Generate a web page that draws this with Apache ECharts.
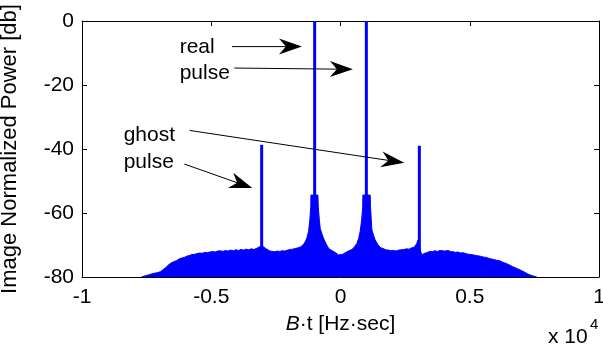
<!DOCTYPE html>
<html>
<head>
<meta charset="utf-8">
<script src="https://cdn.jsdelivr.net/npm/echarts@6/dist/echarts.min.js"></script>
<style>
html,body{margin:0;padding:0;background:#fff;}
#chart{width:603px;height:351px;}
</style>
</head>
<body>
<div id="chart"></div>
<script>
// ---- data (x in Hz*sec, y in dB) ----
var xTickLabels = ['-1', '-0.5', '0', '0.5', '1'];
var yTickLabels = ['-80', '-60', '-40', '-20', '0'];

// noise floor (upper envelope of the filled spectrum)
var floorX = [
  -7700,-7550,-7400,-7250,-7100,-6950,-6850,-6750,-6650,-6550,-6450,-6350,-6250,-6150,-6050,-5950,
  -5850,-5750,-5650,-5550,-5450,-5350,-5250,-5150,-5050,-4950,-4850,-4750,-4650,-4550,-4450,-4350,
  -4250,-4150,-4050,-3950,-3850,-3750,-3650,-3550,-3450,-3350,-3250,-3150,-3100,-3000,-2950,-2850,
  -2750,-2650,-2550,-2450,-2350,-2250,-2150,-2050,-1950,-1850,-1750,-1650,-1550,-1450,-1365,-1300,
  -1237,-1190,-1150,-1144,-874,-860,-820,-785,-720,-657,-560,-464,-370,-271,-170,-77,
  0,90,182,300,441,540,634,700,761,820,860,866,1148,1160,1190,1214,
  1280,1341,1440,1535,1650,1750,1850,1950,2050,2150,2250,2350,2450,2550,2650,2750,
  2850,2950,3000,3100,3150,3250,3340,3450,3550,3650,3750,3850,3950,4050,4150,4250,
  4350,4450,4550,4650,4750,4850,4950,5050,5150,5250,5350,5450,5550,5650,5750,5850,
  5950,6050,6150,6250,6350,6450,6550,6650,6750,6850,6950,7050,7150,7250,7350,7450,7600
];
var floorY = [
  -80,-79.6,-79.3,-78.9,-78.7,-78.3,-77.6,-77.0,-76.2,-75.6,-75.2,-74.9,-74.4,-74.1,-73.9,-73.5,
  -73.3,-73.0,-72.9,-72.7,-72.5,-72.6,-72.3,-72.4,-72.2,-72.0,-72.2,-71.9,-71.8,-72.0,-71.7,-71.9,
  -71.6,-71.8,-71.5,-71.7,-71.4,-71.6,-71.3,-71.5,-71.2,-71.4,-71.1,-70.6,-70.0,-70.5,-71.0,-71.3,
  -71.8,-72.0,-72.1,-71.9,-72.0,-71.8,-71.9,-71.6,-71.4,-71.3,-71.1,-70.9,-70.6,-70.0,-69.0,-67.8,
  -65.8,-62.5,-58.0,-54.4,-54.4,-58.0,-62.0,-64.8,-66.5,-67.9,-69.6,-71.0,-71.6,-72.0,-72.5,-73.1,
  -73.6,-72.9,-72.4,-71.9,-71.4,-70.6,-69.5,-68.0,-65.8,-62.0,-58.0,-54.4,-54.4,-58.0,-62.0,-65.3,
  -67.0,-68.4,-69.8,-70.8,-71.1,-71.5,-71.6,-71.8,-71.7,-71.9,-71.6,-71.5,-71.4,-71.2,-71.3,-70.9,
  -70.7,-69.5,-68.4,-72.0,-73.1,-72.6,-72.4,-72.0,-72.1,-71.8,-72.0,-71.7,-71.8,-71.9,-71.7,-72.0,
  -72.1,-72.3,-72.2,-72.5,-72.4,-72.7,-72.9,-73.0,-73.1,-73.3,-73.4,-73.6,-73.8,-73.9,-74.2,-74.4,
  -74.6,-74.8,-74.9,-75.3,-75.6,-75.9,-76.3,-76.7,-77.1,-77.4,-77.8,-78.2,-78.6,-79.1,-79.4,-79.7,-80
];

// narrow pulses
var spikeX = [-3050, -1000, 1000, 3050];
var spikePeak = [-38.7, 0, 0, -39.0];

// annotations
var noteTexts = ['real', 'pulse', 'ghost', 'pulse'];
var noteX = [-6223, -6223, -8388, -8388];
var noteY = [-8.1, -16.2, -35.7, -44.0];

var arrowFromX = [-4198, -4109, -5837, -6042];
var arrowFromY = [-8.0, -14.7, -34.2, -44.7];
var arrowToX = [-1492, 479, 2462, -3413];
var arrowToY = [-8.0, -15.1, -44.3, -52.2];

// ---- build ----
var FONT = "'Liberation Sans', Arial, Helvetica, sans-serif";
var BLUE = '#0000ff';
var floorData = floorX.map(function (x, i) { return [x, floorY[i]]; });
var spikeData = spikeX.map(function (x, i) { return [x, spikePeak[i]]; });
var noteData = noteX.map(function (x, i) { return [x, noteY[i]]; });
var arrowData = arrowFromX.map(function (x, i) { return [x, arrowFromY[i], arrowToX[i], arrowToY[i]]; });

function xFmt(v) {
  var idx = Math.round((v + 10000) / 5000);
  return xTickLabels[idx];
}
function yFmt(v) {
  var idx = Math.round((v + 80) / 20);
  return yTickLabels[idx];
}

var chart = echarts.init(document.getElementById('chart'));
var axisLine = { show: true, onZero: false, lineStyle: { color: '#000', width: 1 } };
var axisTick = { show: true, inside: true, length: 5, lineStyle: { color: '#000', width: 1 } };

chart.setOption({
  animation: false,
  backgroundColor: '#fff',
  grid: { left: 82, right: 4, top: 21, bottom: 74, containLabel: false, outerBoundsMode: 'none' },
  xAxis: [
    {
      type: 'value', position: 'bottom', min: -10000, max: 10000, interval: 5000,
      axisLine: axisLine, axisTick: axisTick, splitLine: { show: false },
      axisLabel: { formatter: xFmt, color: '#000', fontSize: 21, fontFamily: FONT, margin: 10 },
      name: '{i|B}·t [Hz·sec]', nameLocation: 'middle', nameGap: 37,
      nameTextStyle: {
        color: '#000', fontSize: 21, fontFamily: FONT,
        rich: { i: { fontStyle: 'italic', fontSize: 21, fontFamily: FONT, color: '#000' } }
      }
    },
    {
      type: 'value', position: 'top', min: -10000, max: 10000, interval: 5000,
      axisLine: axisLine, axisTick: axisTick, splitLine: { show: false },
      axisLabel: { show: false }
    }
  ],
  yAxis: [
    {
      type: 'value', position: 'left', min: -80, max: 0, interval: 20,
      axisLine: axisLine, axisTick: axisTick, splitLine: { show: false },
      axisLabel: { formatter: yFmt, color: '#000', fontSize: 21, fontFamily: FONT, margin: 8 },
      name: 'Image Normalized Power [db]', nameLocation: 'middle', nameGap: 61, nameRotate: 90,
      nameTextStyle: { color: '#000', fontSize: 22, fontFamily: FONT }
    },
    {
      type: 'value', position: 'right', min: -80, max: 0, interval: 20,
      axisLine: axisLine, axisTick: axisTick, splitLine: { show: false },
      axisLabel: { show: false }
    }
  ],
  graphic: [
    { type: 'text', left: 548, top: 327, style: { text: 'x 10', font: '21px ' + FONT, fill: '#000' } },
    { type: 'text', left: 590, top: 317, style: { text: '4', font: '15px ' + FONT, fill: '#000' } }
  ],
  series: [
    {
      type: 'line', data: floorData, showSymbol: false, symbol: 'none',
      lineStyle: { color: BLUE, width: 1 },
      areaStyle: { color: BLUE, opacity: 1, origin: 'start' },
      z: 2, silent: true
    },
    {
      type: 'custom', data: spikeData, z: 3, silent: true,
      renderItem: function (params, api) {
        var top = api.coord([api.value(0), api.value(1)]);
        var bot = api.coord([api.value(0), -80]);
        return { type: 'rect', shape: { x: top[0] - 1.5, y: top[1], width: 3, height: bot[1] - top[1] }, style: { fill: BLUE } };
      }
    },
    {
      type: 'custom', data: arrowData, z: 5, silent: true, clip: false,
      encode: { x: [0, 2], y: [1, 3] },
      renderItem: function (params, api) {
        var p1 = api.coord([api.value(0), api.value(1)]);
        var p2 = api.coord([api.value(2), api.value(3)]);
        var dx = p2[0] - p1[0], dy = p2[1] - p1[1];
        var len = Math.sqrt(dx * dx + dy * dy);
        var ux = dx / len, uy = dy / len;
        var px = -uy, py = ux;
        var L = 23, W = 8, N = 16;
        var back = [p2[0] - ux * L, p2[1] - uy * L];
        var notch = [p2[0] - ux * N, p2[1] - uy * N];
        return {
          type: 'group',
          children: [
            { type: 'line', shape: { x1: p1[0], y1: p1[1], x2: notch[0], y2: notch[1] }, style: { stroke: '#000', lineWidth: 1 } },
            { type: 'polygon', shape: { points: [p2, [back[0] + px * W, back[1] + py * W], notch, [back[0] - px * W, back[1] - py * W]] }, style: { fill: '#000' } }
          ]
        };
      }
    },
    {
      type: 'custom', data: noteData, z: 6, silent: true, clip: false,
      renderItem: function (params, api) {
        var p = api.coord([api.value(0), api.value(1)]);
        return {
          type: 'text', x: p[0], y: p[1],
          style: { text: noteTexts[params.dataIndex], font: '21px ' + FONT, fill: '#000', textAlign: 'left', textVerticalAlign: 'middle' }
        };
      }
    }
  ]
});
</script>
</body>
</html>
